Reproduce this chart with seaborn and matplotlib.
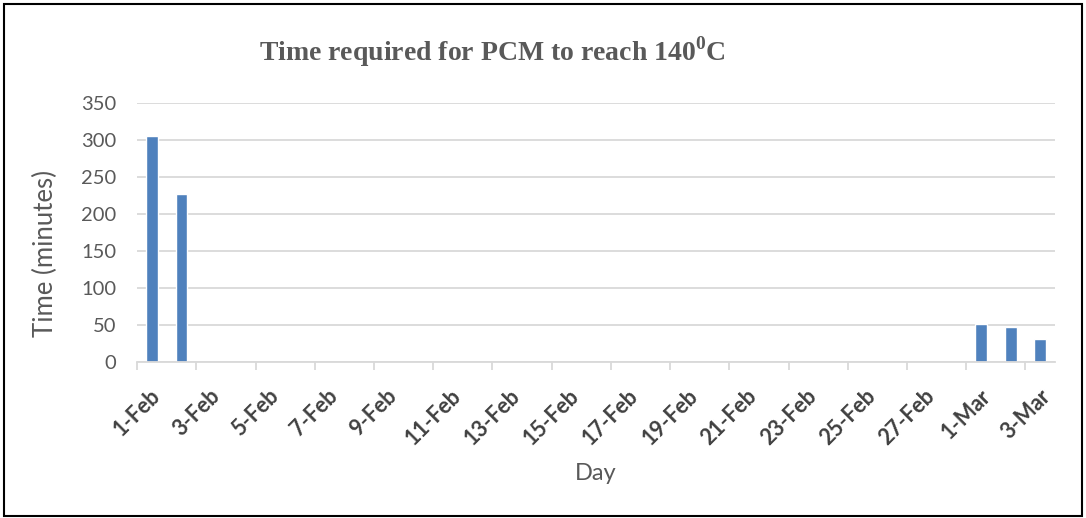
import matplotlib
matplotlib.use("Agg")
import matplotlib.pyplot as plt
from matplotlib.patches import Rectangle
import pandas as pd
import seaborn as sns

# Measured days and time for the PCM to reach 140 °C
days = ["1-Feb", "2-Feb", "1-Mar", "2-Mar", "3-Mar"]
minutes = [305, 227, 51, 47, 31]

# Full calendar span of the x axis
all_days = [f"{d.day}-{d.strftime('%b')}" for d in pd.date_range("2021-02-01", "2021-03-03")]
tick_days = all_days[::2]
y_ticks = [0, 50, 100, 150, 200, 250, 300, 350]

sns.set_theme(style="white")
plt.rcParams["font.family"] = ["Lato", "DejaVu Sans"]
plt.rcParams["mathtext.fontset"] = "custom"
plt.rcParams["mathtext.rm"] = "Liberation Serif:bold"
plt.rcParams["mathtext.bf"] = "Liberation Serif:bold"

df = pd.DataFrame({"Day": days, "Time": minutes})

fig = plt.figure(figsize=(10.86, 5.18), dpi=100)
ax = fig.add_axes([0.1262, 0.3012, 0.8453, 0.5000])

sns.barplot(data=df, x="Day", y="Time", order=all_days, color="#4f81bd",
            saturation=1, width=0.4, ax=ax)

ax.set_xlim(-0.5, len(all_days) - 0.5)
ax.set_ylim(0, 350)
ax.set_yticks(y_ticks)
ax.set_yticklabels([str(v) for v in y_ticks], fontsize=14.5, color="#595959")
ax.yaxis.grid(True, color="#d9d9d9", linewidth=1.3)
ax.set_axisbelow(True)

tick_pos = [all_days.index(d) - 0.5 for d in tick_days]
ax.set_xticks(tick_pos)
ax.set_xticklabels(tick_days, rotation=45, ha="center", fontsize=15.5,
                   color="#404040", fontweight="bold")
ax.tick_params(axis="x", length=6, width=1.3, color="#d9d9d9", pad=11, bottom=True)
ax.tick_params(axis="y", length=0, pad=15)

for side in ["left", "right", "top"]:
    ax.spines[side].set_visible(False)
ax.spines["bottom"].set_color("#d9d9d9")
ax.spines["bottom"].set_linewidth(1.3)

ax.set_xlabel("Day", fontsize=17, color="#595959")
ax.set_ylabel("Time (minutes)", fontsize=18.5, color="#595959")
ax.xaxis.set_label_coords(0.5, -0.39)
ax.yaxis.set_label_coords(-0.086, 0.42)

fig.text(0.453, 0.9, r"Time required for PCM to reach 140$^{0}$C",
         family="Liberation Serif", fontweight="bold", fontsize=20,
         color="#595959", ha="center", va="center")

fig.patches.append(Rectangle((0.004, 0.003), 0.992, 0.99, transform=fig.transFigure,
                             fill=False, edgecolor="black", linewidth=1.5))

fig.savefig("out.png", dpi=100)
